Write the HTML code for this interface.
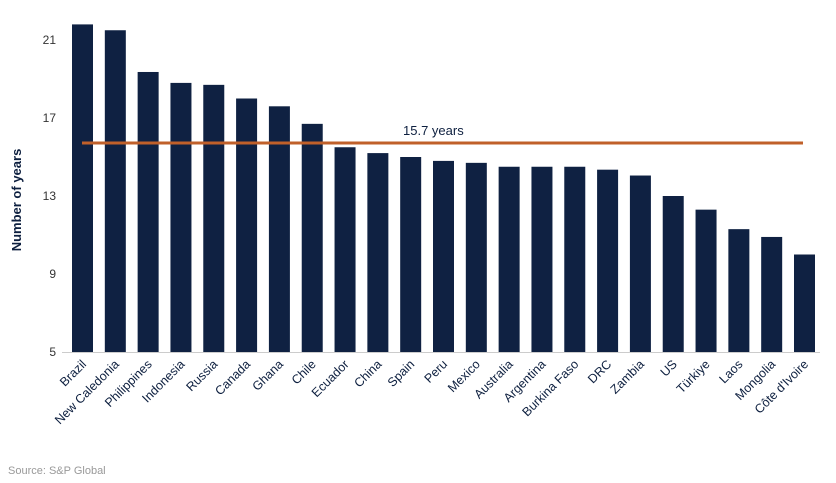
<!DOCTYPE html>
<html><head><meta charset="utf-8"><style>
body{margin:0;background:#fff;}
svg{display:block;font-family:"Liberation Sans",sans-serif;}
</style></head><body>
<svg width="836" height="483" viewBox="0 0 836 483" xmlns="http://www.w3.org/2000/svg">
<g font-size="12" fill="#333" text-anchor="end">
<text x="56" y="44">21</text>
<text x="56" y="122">17</text>
<text x="56" y="200">13</text>
<text x="56" y="278">9</text>
<text x="56" y="356">5</text>
</g>
<text transform="translate(21,200) rotate(-90)" text-anchor="middle" font-size="13" font-weight="bold" fill="#0d1f3f">Number of years</text>
<line x1="62" y1="352.5" x2="820" y2="352.5" stroke="#ccc" stroke-width="1"/>
<g fill="#0f2142" id="bars"></g>
<g font-size="12.5" fill="#0d1f3f" text-anchor="end" id="labels"></g>
<line x1="82" y1="143" x2="803" y2="143" stroke="#c0602a" stroke-width="3"/>
<text x="403" y="135" font-size="13" fill="#0d1f3f">15.7 years</text>
<text x="8" y="474" font-size="11" fill="#999">Source: S&amp;P Global</text>
<script>
var d=[["Brazil",21.8],["New Caledonia",21.5],["Philippines",19.36],["Indonesia",18.8],["Russia",18.7],["Canada",18.0],["Ghana",17.6],["Chile",16.7],["Ecuador",15.5],["China",15.2],["Spain",15.0],["Peru",14.8],["Mexico",14.7],["Australia",14.5],["Argentina",14.5],["Burkina Faso",14.5],["DRC",14.35],["Zambia",14.05],["US",13.0],["Türkiye",12.3],["Laos",11.3],["Mongolia",10.9],["Côte d'Ivoire",10.0]];
var ns="http://www.w3.org/2000/svg",b=document.getElementById("bars"),l=document.getElementById("labels");
var step=(794-72)/(d.length-1);
d.forEach(function(e,i){var x=72+i*step,y=352-(e[1]-5)*19.5;
var r=document.createElementNS(ns,"rect");r.setAttribute("x",x);r.setAttribute("y",y);r.setAttribute("width",21);r.setAttribute("height",352-y);b.appendChild(r);
var t=document.createElementNS(ns,"text");var cx=x+15,cy=365;t.setAttribute("transform","translate("+cx+","+cy+") rotate(-45)");t.textContent=e[0];l.appendChild(t);});
</script>
</svg>
</body></html>
